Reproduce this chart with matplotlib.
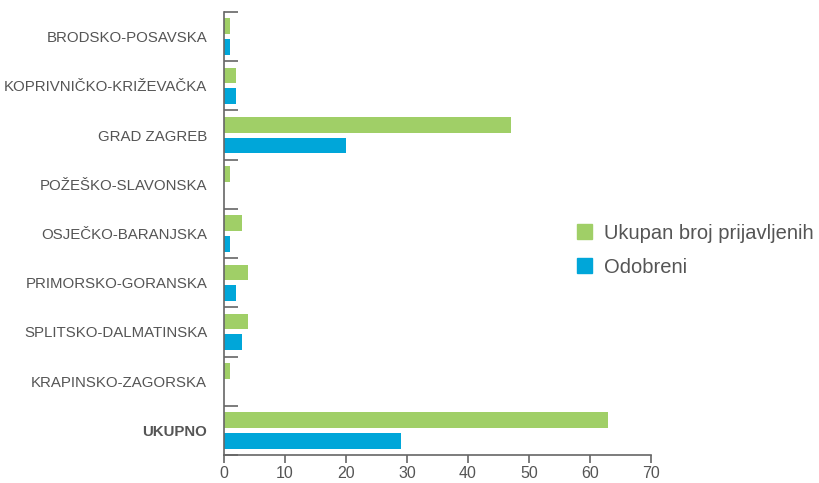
import numpy as np
import matplotlib.pyplot as plt
from matplotlib.patches import Patch

# Data (top to bottom)
regions = ["BRODSKO-POSAVSKA", "KOPRIVNIČKO-KRIŽEVAČKA", "GRAD ZAGREB",
           "POŽEŠKO-SLAVONSKA", "OSJEČKO-BARANJSKA", "PRIMORSKO-GORANSKA",
           "SPLITSKO-DALMATINSKA", "KRAPINSKO-ZAGORSKA", "UKUPNO"]
prijavljeni = [1, 2, 47, 1, 3, 4, 4, 1, 63]
odobreni = [1, 2, 20, 0, 1, 2, 3, 0, 29]
series_names = ["Ukupan broj prijavljenih", "Odobreni"]

green = "#A0CF67"
blue = "#00A6D9"
grey = "#555555"
axis_grey = "#666666"

plt.rcParams['font.family'] = ['Liberation Sans', 'DejaVu Sans']

fig = plt.figure(figsize=(8.2, 4.83), dpi=100)
ax = fig.add_axes([0.273, 0.058, 0.521, 0.917])

n = len(regions)
pos = np.arange(n)
h = 0.32
ax.barh(pos - 0.21, prijavljeni, height=h, color=green)
ax.barh(pos + 0.21, odobreni, height=h, color=blue)

ax.set_ylim(n - 0.5, -0.5)
ax.set_xlim(0, 70)
ax.set_xticks(np.arange(0, 71, 10))
ax.set_yticks(pos)
ax.set_yticklabels(regions)
ax.set_yticks(np.arange(-0.5, n, 1), minor=True)

ax.tick_params(axis='y', which='major', length=0, pad=12, labelsize=10.8, labelcolor=grey)
ax.tick_params(axis='y', which='minor', direction='in', length=10, width=1.2, color=axis_grey)
ax.tick_params(axis='x', which='major', direction='out', length=6, width=1.2,
               color=axis_grey, labelsize=11.5, labelcolor=grey, pad=2)
for lbl in ax.get_yticklabels():
    if lbl.get_text() == "UKUPNO":
        lbl.set_fontweight('bold')

for s in ['top', 'right']:
    ax.spines[s].set_visible(False)
for s in ['left', 'bottom']:
    ax.spines[s].set_color(axis_grey)
    ax.spines[s].set_linewidth(1.2)

handles = [Patch(color=green), Patch(color=blue)]
fig.legend(handles, series_names, loc='center left', bbox_to_anchor=(0.682, 0.482),
           frameon=False, fontsize=14.5, labelcolor=grey, handlelength=0.75,
           handleheight=0.75, handletextpad=0.55, labelspacing=0.75)

fig.savefig("out.png", dpi=100)
